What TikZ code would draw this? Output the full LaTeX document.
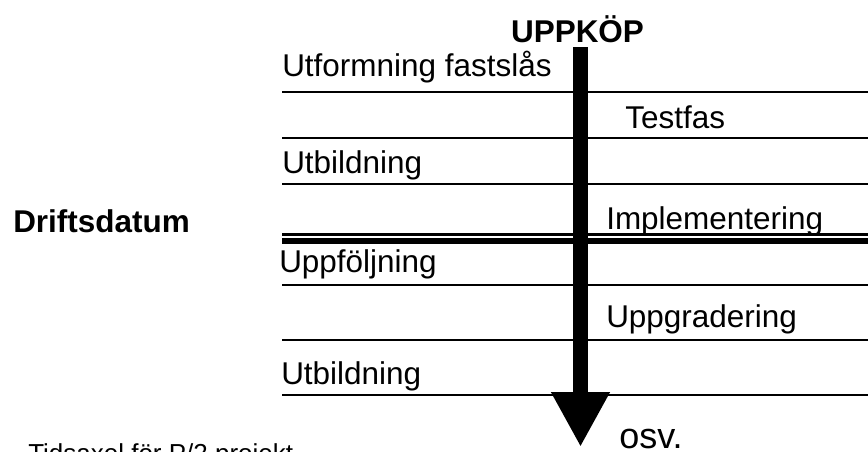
\documentclass[tikz,border=0pt]{standalone}
\usepackage{fontspec}
\setmainfont{Liberation Sans}
\usetikzlibrary{arrows.meta}

\begin{document}
\begin{tikzpicture}[
    x=0.75pt, y=-0.75pt,
    every node/.style={anchor=base west, inner sep=0pt, font=\fontsize{23.6}{28}\selectfont},
    head label/.style={font=\bfseries\fontsize{23.6}{28}\selectfont},
    small label/.style={font=\fontsize{19.5}{23}\selectfont},
    big label/.style={font=\fontsize{27}{32}\selectfont},
    phase line/.style={line width=1.5pt},
  ]
  \useasboundingbox (0,0) rectangle (868,451);
  \clip (0,0) rectangle (868,451);

  % phase rows
  \foreach \y in {92,138,184,285,340,395}
    \draw[phase line] (282,\y) -- (868,\y);
  \draw[line width=1.75pt] (282,234.5) -- (868,234.5);
  \draw[line width=4.5pt]  (282,241)   -- (868,241);

  % time axis
  \coordinate (start) at (580.5,47);
  \coordinate (end)   at (580.5,447);
  \draw[line width=11.25pt, -{Triangle[width=41.25pt,length=41.25pt]}] (start) -- (end);

  \node[head label, anchor=base] (kop) at (577.5,42) {UPPKÖP};
  \node (utf)  at (282,76)  {Utformning fastslås};
  \node (test) at (625,128) {Testfas};
  \node (utb1) at (282,173) {Utbildning};
  \node[head label] (drift) at (13,232) {Driftsdatum};
  \node (impl) at (606,229) {Implementering};
  \node (uppf) at (279,272) {Uppföljning};
  \node (uppg) at (606,327) {Uppgradering};
  \node (utb2) at (281,384) {Utbildning};
  \node[big label] (osv) at (619,448) {osv.};
  \node[small label] (axel) at (28,462) {Tidsaxel för P/2 projekt};

\end{tikzpicture}
\end{document}
